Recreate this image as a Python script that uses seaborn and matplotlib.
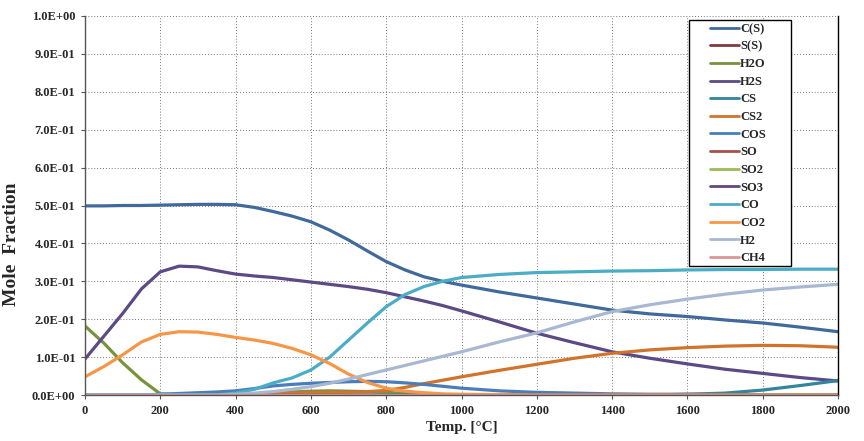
import numpy as np
import pandas as pd
import matplotlib
matplotlib.use("Agg")
import matplotlib.pyplot as plt
import seaborn as sns
from matplotlib.patches import Rectangle

# --- data (mole fraction vs temperature) ---
temps = [0, 50, 100, 150, 200, 250, 300, 350, 400, 450, 500, 550, 600, 650, 700,
         750, 800, 850, 900, 950, 1000, 1100, 1200, 1300, 1400, 1500, 1600, 1700,
         1800, 1900, 2000]

c_s = [0.499, 0.499, 0.500, 0.500, 0.501, 0.502, 0.503, 0.503, 0.502, 0.495, 0.484,
       0.472, 0.457, 0.435, 0.409, 0.380, 0.352, 0.330, 0.312, 0.300, 0.290, 0.272,
       0.256, 0.240, 0.224, 0.214, 0.207, 0.198, 0.190, 0.179, 0.167]
s_s = [0.0] * 31
h2o = [0.182, 0.137, 0.085, 0.040, 0.003, 0.001, 0.0, 0.0, 0.0, 0.0, 0.004, 0.008,
       0.010, 0.011, 0.010, 0.009, 0.007, 0.004, 0.002, 0.001, 0.0, 0.0, 0.0, 0.0,
       0.0, 0.0, 0.0, 0.0, 0.0, 0.0, 0.0]
h2s = [0.095, 0.155, 0.215, 0.280, 0.325, 0.340, 0.338, 0.328, 0.319, 0.314, 0.310,
       0.304, 0.298, 0.292, 0.286, 0.279, 0.270, 0.259, 0.248, 0.236, 0.222, 0.193,
       0.163, 0.138, 0.114, 0.097, 0.082, 0.068, 0.057, 0.046, 0.037]
cs = [0.0] * 26 + [0.002, 0.005, 0.013, 0.025, 0.038]
cs2 = [0.0, 0.0, 0.0, 0.0, 0.0, 0.0, 0.0, 0.0, 0.0, 0.0, 0.003, 0.005, 0.006, 0.007,
       0.007, 0.009, 0.012, 0.020, 0.030, 0.039, 0.048, 0.065, 0.081, 0.097, 0.110,
       0.119, 0.125, 0.129, 0.131, 0.130, 0.126]
cos = [0.0, 0.0, 0.0, 0.0, 0.002, 0.004, 0.006, 0.008, 0.011, 0.017, 0.024, 0.028,
       0.031, 0.033, 0.035, 0.036, 0.035, 0.032, 0.028, 0.023, 0.018, 0.011, 0.007,
       0.005, 0.003, 0.002, 0.002, 0.001, 0.0, 0.0, 0.0]
so = [0.0] * 31
so2 = [0.0] * 31
so3 = [0.0] * 31
co = [0.0, 0.0, 0.0, 0.0, 0.0, 0.0, 0.0, 0.0, 0.005, 0.015, 0.032, 0.045, 0.066,
      0.100, 0.145, 0.190, 0.233, 0.265, 0.286, 0.300, 0.310, 0.318, 0.323, 0.325,
      0.327, 0.328, 0.330, 0.331, 0.331, 0.332, 0.332]
co2 = [0.048, 0.075, 0.106, 0.140, 0.160, 0.167, 0.166, 0.160, 0.152, 0.145, 0.136,
       0.123, 0.106, 0.083, 0.055, 0.033, 0.018, 0.010, 0.006, 0.003, 0.002, 0.001,
       0.0, 0.0, 0.0, 0.0, 0.0, 0.0, 0.0, 0.0, 0.0]
h2 = [0.0, 0.0, 0.0, 0.0, 0.0, 0.0, 0.0, 0.0, 0.002, 0.005, 0.009, 0.015, 0.022,
      0.031, 0.042, 0.054, 0.066, 0.078, 0.090, 0.102, 0.114, 0.140, 0.164, 0.193,
      0.220, 0.238, 0.253, 0.266, 0.277, 0.285, 0.292]
ch4 = [0.0] * 31

species = ["C(S)", "S(S)", "H2O", "H2S", "CS", "CS2", "COS", "SO", "SO2", "SO3",
           "CO", "CO2", "H2", "CH4"]
series = [c_s, s_s, h2o, h2s, cs, cs2, cos, so, so2, so3, co, co2, h2, ch4]
colors = ["#40699C", "#7F3B3A", "#77933C", "#5B4A85", "#31859C", "#D2732B",
          "#4A7EBB", "#A5504D", "#9BBB59", "#604A7B", "#4BACC6", "#F79646",
          "#A8B7D2", "#D99694"]

rows = []
for name, vals in zip(species, series):
    for t, v in zip(temps, vals):
        rows.append({"Temp": t, "Fraction": v, "Species": name})
df = pd.DataFrame(rows)

sns.set_style("white")
plt.rcParams["font.family"] = ["Liberation Serif", "DejaVu Serif"]
plt.rcParams["font.weight"] = "bold"

fig = plt.figure(figsize=(8.64, 4.41), dpi=100)
ax = fig.add_axes([85 / 864, 1 - 395 / 441, 753 / 864, 379 / 441])

sns.lineplot(data=df, x="Temp", y="Fraction", hue="Species", hue_order=species,
             palette=colors, linewidth=2.3, ax=ax, sort=False)

ax.set_xlim(0, 2000)
ax.set_ylim(0, 1.0)
ax.set_xticks(np.arange(0, 2001, 200))
ax.set_yticks(np.arange(0, 1.01, 0.1))
ax.set_yticklabels([f"{v:.1E}" for v in np.arange(0, 1.01, 0.1)],
                   fontsize=9, fontweight="bold")
ax.set_xticklabels([str(v) for v in range(0, 2001, 200)],
                   fontsize=9, fontweight="bold")
ax.tick_params(axis="both", direction="out", length=3, width=0.8, color="#555555",
               left=True, bottom=True, pad=4)
ax.grid(True, color="#777777", linestyle=(0, (1, 2)), linewidth=0.7)
ax.set_axisbelow(True)

for side in ["left", "bottom"]:
    ax.spines[side].set_color("#555555")
    ax.spines[side].set_linewidth(1.0)
ax.spines["right"].set_color("black")
ax.spines["right"].set_linewidth(1.0)
ax.spines["top"].set_visible(False)

ax.set_xlabel("Temp. [°C]", fontsize=11, fontweight="bold", labelpad=3)
ax.set_ylabel("Mole  Fraction", fontsize=14, fontweight="bold")
ax.yaxis.set_label_coords((20 - 85) / 753, (395 - 244) / 379)

leg = ax.legend(loc="upper left", bbox_to_anchor=((710 - 85) / 753, (395 - 23) / 379),
                frameon=False, fontsize=9, handlelength=2.3, handletextpad=0.1,
                labelspacing=0.45, borderaxespad=0, borderpad=0)
for line in leg.get_lines():
    line.set_linewidth(2.0)
for txt in leg.get_texts():
    txt.set_fontweight("bold")
leg.set_zorder(6)

# legend box frame (white fill, black border)
box = Rectangle((689 / 864, 1 - 266 / 441), 102 / 864, 246 / 441,
                transform=fig.transFigure, facecolor="white", edgecolor="black",
                linewidth=1.0, zorder=5, clip_on=False)
ax.add_patch(box)

fig.savefig("out.png", dpi=100)
